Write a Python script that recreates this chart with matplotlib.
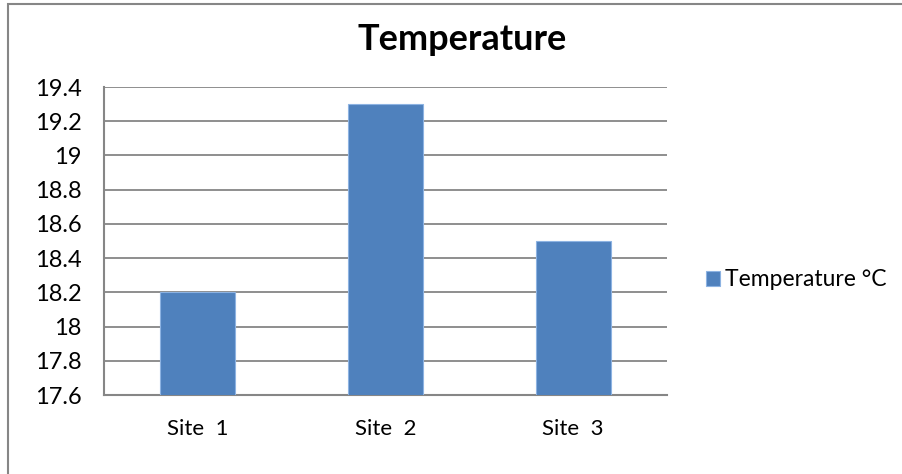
import matplotlib.pyplot as plt
from matplotlib.patches import Rectangle

# Chart data
sites = ["Site  1", "Site  2", "Site  3"]
temperatures = [18.2, 19.3, 18.5]
y_ticks = [17.6, 17.8, 18.0, 18.2, 18.4, 18.6, 18.8, 19.0, 19.2, 19.4]
y_labels = ["17.6", "17.8", "18", "18.2", "18.4", "18.6", "18.8", "19", "19.2", "19.4"]

W, H = 903, 474
plt.rcParams["font.family"] = ["Lato", "DejaVu Sans"]

fig = plt.figure(figsize=(W / 100, H / 100), dpi=100)
grey = "#868686"

# outer chart border (top and left visible, rest cut off)
fig.patches.append(Rectangle((8 / W, -0.1), 1.2, 1 - 4 / H + 0.1,
                             transform=fig.transFigure, fill=False,
                             edgecolor=grey, linewidth=1.5))

ax = fig.add_axes([104 / W, (H - 395) / H, 563 / W, 308 / H])
x = range(len(sites))
bars = ax.bar(x, temperatures, width=0.4, color="#4f81bd",
              edgecolor="#8db3e2", linewidth=0.8, label="Temperature °C", zorder=3)

ax.set_ylim(17.6, 19.4)
ax.set_xlim(-0.5, 2.5)
ax.set_yticks(y_ticks)
ax.set_yticklabels(y_labels)
ax.set_xticks(list(x))
ax.set_xticklabels(sites)
ax.yaxis.grid(True, color=grey, linewidth=1.3, zorder=0)
ax.tick_params(axis="y", length=0, labelsize=17, colors="black", pad=16)
ax.tick_params(axis="x", length=0, labelsize=16, colors="black", pad=17)
for s in ax.spines.values():
    s.set_color(grey)
    s.set_linewidth(1.5)
ax.spines["right"].set_visible(False)
ax.spines["top"].set_visible(False)

fig.text(462 / W, 1 - 40 / H, "Temperature", ha="center", va="center",
         fontsize=26, fontweight="bold")

fig.legend(handles=[bars], loc="center left", bbox_to_anchor=(706 / W, 1 - 280 / H),
           frameon=False, fontsize=16.5, handlelength=0.6, handleheight=0.6,
           handletextpad=0.25, borderpad=0, borderaxespad=0)

fig.savefig("out.png", dpi=100)
